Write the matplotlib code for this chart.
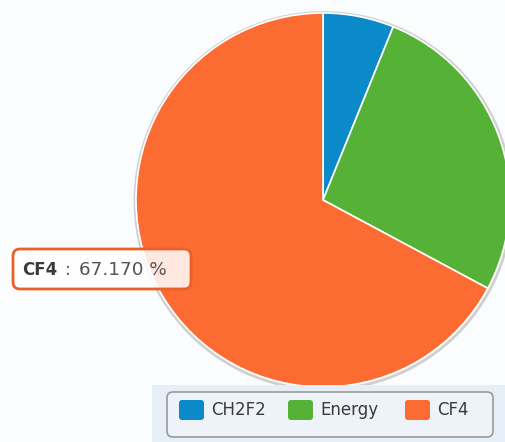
import matplotlib
matplotlib.use('Agg')
import matplotlib.pyplot as plt
from matplotlib.patches import FancyBboxPatch, Rectangle, Circle

# gas share data
labels = ["CH2F2", "Energy", "CF4"]
shares = [6.13, 26.70, 67.17]
colors = ["#0b8ac9", "#55b236", "#fc6b32"]

W, H = 505, 442
fig = plt.figure(figsize=(W / 100, H / 100), dpi=100, facecolor="#fbfcfe")
ax = fig.add_axes([0, 0, 1, 1])

cx, cy, r = 323, H - 200, 187

# soft shadow ring behind the pie
ax.add_patch(Circle((cx + 0.5, cy - 1), r + 1.5, facecolor="none", edgecolor="#cfcfcf", lw=2, zorder=1))
ax.pie(shares, colors=colors, startangle=90, counterclock=False,
       center=(cx, cy), radius=r, frame=True,
       wedgeprops=dict(edgecolor="white", linewidth=1.2))
ax.set_xlim(0, W)
ax.set_ylim(0, H)
ax.set_aspect("equal")
ax.axis("off")

# tooltip for the largest slice
tip = FancyBboxPatch((13, H - 289), 178, 40, boxstyle="round,pad=0,rounding_size=7",
                     facecolor=(1, 1, 1, 0.85), edgecolor="#e8602a", lw=2, zorder=5)
ax.add_patch(tip)
ty = H - 270
ax.text(22, ty, labels[2], fontsize=12, fontweight="bold", color="#3a3a3a",
        va="center", ha="left", zorder=6)
ax.text(65, ty, ":", fontsize=12, color="#555555", va="center", ha="left", zorder=6)
ax.text(79, ty, f"{shares[2]:.3f} %", fontsize=13.2, color="#555555",
        va="center", ha="left", zorder=6)

# legend strip
ax.add_patch(Rectangle((152, 0), W - 152, H - 385, facecolor="#e6eff8", edgecolor="none", zorder=3))
ax.add_patch(FancyBboxPatch((167, H - 437), 326, 45, boxstyle="round,pad=0,rounding_size=6",
                            facecolor="#edf3f9", edgecolor="#9a9a9a", lw=1.2, zorder=4))
xs = [179, 288, 405]
for x, lab, col in zip(xs, labels, colors):
    ax.add_patch(FancyBboxPatch((x, H - 420), 25, 20, boxstyle="round,pad=0,rounding_size=3",
                                facecolor=col, edgecolor="none", zorder=5))
    ax.text(x + 32, H - 410, lab, fontsize=12, color="#3a3a3a", va="center", ha="left", zorder=6)

plt.savefig("out.png", dpi=100, facecolor=fig.get_facecolor())
plt.close()
